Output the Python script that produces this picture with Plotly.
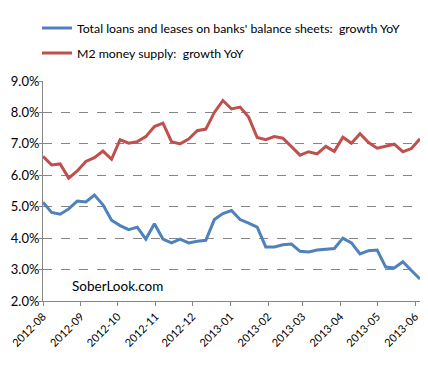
import plotly.graph_objects as go
import pandas as pd

dates = pd.date_range("2012-08-01", periods=45, freq="7D")

loans_growth = [5.14, 4.82, 4.76, 4.93, 5.18, 5.15, 5.37, 5.06, 4.57, 4.40,
                4.27, 4.35, 3.97, 4.46, 3.97, 3.85, 3.97, 3.85, 3.90, 3.93,
                4.59, 4.78, 4.88, 4.59, 4.48, 4.35, 3.72, 3.72, 3.79, 3.81,
                3.58, 3.56, 3.62, 3.65, 3.67, 4.00, 3.85, 3.50, 3.60, 3.62,
                3.08, 3.05, 3.25, 2.97, 2.70]

m2_growth = [6.60, 6.33, 6.36, 5.91, 6.14, 6.44, 6.56, 6.77, 6.51, 7.13,
             7.02, 7.07, 7.23, 7.55, 7.66, 7.07, 7.00, 7.15, 7.42, 7.47,
             8.00, 8.38, 8.11, 8.17, 7.85, 7.20, 7.13, 7.23, 7.18, 6.92,
             6.64, 6.75, 6.68, 6.92, 6.76, 7.21, 7.02, 7.32, 7.04, 6.86,
             6.92, 6.99, 6.75, 6.85, 7.16]

series_names = ["Total loans and leases on banks' balance sheets:  growth YoY",
                "M2 money supply:  growth YoY"]

FONT = "Lato"
W, H = 428, 365
L, R, T, B = 43, 8, 81, 64
PW, PH = W - L - R, H - T - B

fig = go.Figure()
fig.add_trace(go.Scatter(x=dates, y=loans_growth, mode="lines", name=series_names[0],
                         line=dict(color="#4F81BD", width=3), legend="legend"))
fig.add_trace(go.Scatter(x=dates, y=m2_growth, mode="lines", name=series_names[1],
                         line=dict(color="#C0504D", width=3), legend="legend2"))

legend_common = dict(xref="paper", yref="paper", xanchor="left", yanchor="middle",
                     bgcolor="rgba(0,0,0,0)", borderwidth=0,
                     font=dict(family=FONT, size=12.3, color="#000000"))

fig.update_layout(
    width=W, height=H,
    margin=dict(l=L, r=R, t=T, b=B, autoexpand=False),
    paper_bgcolor="white", plot_bgcolor="white",
    font=dict(family=FONT, size=12, color="#000000"),
    showlegend=True,
    legend=dict(x=(37 - L) / PW, y=(H - B - 28) / PH, **legend_common),
    legend2=dict(x=(37 - L) / PW, y=(H - B - 53) / PH, **legend_common),
    xaxis=dict(
        type="date",
        range=["2012-08-01", "2013-06-05"],
        tick0="2012-08-01", dtick="M1", tickformat="%Y-%m",
        tickangle=-45,
        showgrid=False,
        showline=True, linecolor="#868686", linewidth=1,
        ticks="outside", ticklen=4, tickcolor="#868686",
        tickfont=dict(family=FONT, size=11, color="#000000"),
    ),
    yaxis=dict(
        range=[2, 9], dtick=1, tick0=2,
        tickformat=".1f", ticksuffix="%",
        showgrid=True, gridcolor="#868686", griddash="dash", gridwidth=1,
        showline=True, linecolor="#868686", linewidth=1,
        ticks="outside", ticklen=3, tickcolor="#868686",
        ticklabelstandoff=-3,
        tickfont=dict(family=FONT, size=13, color="#000000"),
        zeroline=False,
    ),
    annotations=[dict(text="SoberLook.com", xref="paper", yref="paper",
                      x=(70 - L) / PW, y=(301 - 286) / PH,
                      xanchor="left", yanchor="middle", showarrow=False,
                      font=dict(family=FONT, size=13.5, color="#000000"))],
)

fig.write_html("out.html", config={"displayModeBar": False},
               post_script="document.body.style.margin='0';")
